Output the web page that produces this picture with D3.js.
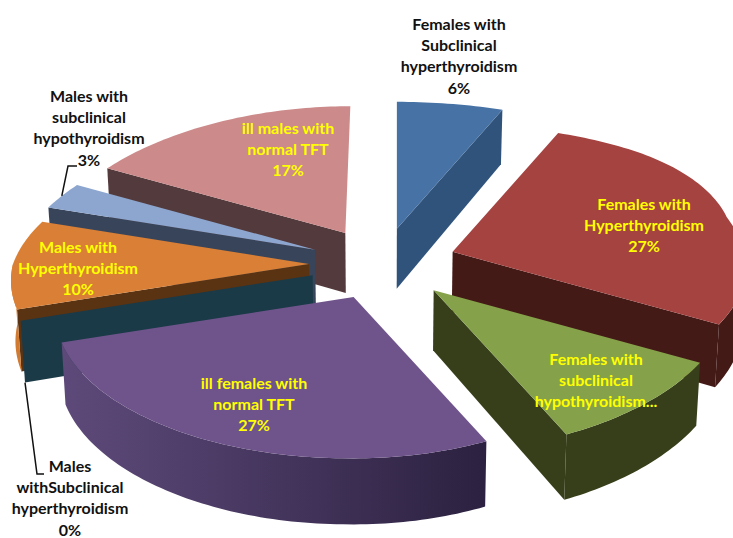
<!DOCTYPE html>
<html>
<head>
<meta charset="utf-8">
<script src="https://cdnjs.cloudflare.com/ajax/libs/d3/7.8.5/d3.min.js"></script>
<style>
    html, body { margin: 0; padding: 0; background: #fff; overflow: hidden; }
    text { font-family: Lato, "Open Sans", sans-serif; font-weight: 700; font-size: 16px; text-anchor: middle; }
</style>
</head>
<body>
<script>
// slices run clockwise from twelve o'clock
const categories = [
    ["Females with", "Subclinical", "hyperthyroidism", "6%"],
    ["Females with", "Hyperthyroidism", "27%"],
    ["Females with", "subclinical", "hypothyroidism..."],
    ["ill females with", "normal TFT", "27%"],
    ["Males", "withSubclinical", "hyperthyroidism", "0%"],
    ["Males with", "Hyperthyroidism", "10%"],
    ["Males with", "subclinical", "hypothyroidism", "3%"],
    ["ill males with", "normal TFT", "17%"]
];
const values = [6, 27, 10, 27, 0, 10, 3, 17];

const topColors = ["#4672a5", "#a54341", "#85a24a", "#6f548b", "#1b3a47", "#d98036", "#8ca6cf", "#cc8a8a"];
const edgeColors = ["#30537c", "#441a17", "#373f1a", "#6f548b", "#1b3a47", "#5a3313", "#38445a", "#533a3c"];
const rimColors = ["#30537c", "#441a17", "#373f1a", "url(#purple-rim)", "#1b3a47", "#d07a32", "#38445a", "#533a3c"];
const labelColors = ["#111", "#ffff00", "#ffff00", "#ffff00", "#111", "#ffff00", "#111", "#ffff00"];
const labelCentres = [[459, 24], [644, 204], [596, 359], [254, 383], [70, 466], [78, 247], [89, 96], [288, 128]];
const paintOrder = [0, 7, 6, 5, 4, 1, 2, 3];

const w = 733, h = 538;
const cx = 383, cy = 264;
const radiusX = 296, radiusY = 142;
const explodeX = 74, explodeY = 36;
const depth = 60;
const lineHeight = 21.3;

const svg = d3.select("body").append("svg")
    .attr("width", w)
    .attr("height", h)
    .attr("id", "pie-svg");

const grad = svg.append("defs").append("linearGradient")
    .attr("id", "purple-rim")
    .attr("x1", "0").attr("x2", "1").attr("y1", "0").attr("y2", "0");
grad.append("stop").attr("offset", "0").attr("stop-color", "#5e4a7a");
grad.append("stop").attr("offset", "0.5").attr("stop-color", "#45365e");
grad.append("stop").attr("offset", "1").attr("stop-color", "#2c2140");

const slices = d3.pie().sort(null)(values);
const line = d3.line();

// the picture's ellipse leans a little, back left pulled in and front pushed left
function lean(X, Y) {
    if (X < 0) return -Y * (5 + (Y < 0 ? 22 : 6) * -X);
    let s = -Y * (Y < 0 ? 12 : 8) * X;
    s -= 10 * X * Math.max(0, 1 - Math.abs(Y + 0.25) / 0.5);
    return s;
}

// flat pie plane to screen, near side drawn a bit larger
function project(d, angle, r, down) {
    const mid = (d.startAngle + d.endAngle) / 2;
    const X = r * Math.sin(angle), Y = -r * Math.cos(angle);
    let x = cx + explodeX * Math.sin(mid) + X * radiusX / (1 - 0.08 * Y) + lean(X, Y);
    let y = cy - explodeY * Math.cos(mid) + Y * radiusY / (1 - 0.12 * Y);
    if (down) {
        x = cx + (x - cx) * 0.988;
        y += depth * (1 + 0.1 * Y);
    }
    return [x, y];
}

function arcAngles(a0, a1) {
    const n = Math.max(2, Math.ceil((a1 - a0) / 0.02));
    return d3.range(n + 1).map(i => a0 + (a1 - a0) * i / n);
}

function radialWall(d, angle) {
    return line([
        project(d, angle, 0, false), project(d, angle, 1, false),
        project(d, angle, 1, true), project(d, angle, 0, true)
    ]) + "Z";
}

paintOrder.forEach(i => {
    const d = slices[i];
    const g = svg.append("g").attr("class", "slice");
    const a0 = d.startAngle, a1 = d.endAngle;

    // only walls turned to the viewer
    if (Math.sin(a1) > 0 && a1 > a0) {
        g.append("path").attr("d", radialWall(d, a1)).attr("fill", edgeColors[i]);
    }
    if (Math.sin(a0) < 0) {
        g.append("path").attr("d", radialWall(d, a0)).attr("fill", edgeColors[i]);
    }

    const r0 = Math.max(a0, Math.PI / 2), r1 = Math.min(a1, Math.PI * 1.5);
    if (r1 > r0) {
        const ang = arcAngles(r0, r1);
        const rim = ang.map(a => project(d, a, 1, false))
            .concat(ang.slice().reverse().map(a => project(d, a, 1, true)));
        g.append("path").attr("d", line(rim) + "Z").attr("fill", rimColors[i]);
    }

    if (a1 > a0) {
        const top = [project(d, a0, 0, false)].concat(arcAngles(a0, a1).map(a => project(d, a, 1, false)));
        g.append("path").attr("d", line(top) + "Z").attr("fill", topColors[i]);
    }
});

// leader lines for the two outside labels on the left
const leaders = [
    { slice: 6, angle: 0.5, down: false, elbow: [68, 166], end: [77, 166] },
    { slice: 4, angle: 0, down: true, elbow: [37, 474], end: [44, 474] }
];
leaders.forEach(l => {
    const d = slices[l.slice];
    const a = d.startAngle + (d.endAngle - d.startAngle) * l.angle;
    svg.append("path")
        .attr("d", line([project(d, a, 1, l.down), l.elbow, l.end]))
        .attr("fill", "none")
        .attr("stroke", "#111")
        .attr("stroke-width", 1.5);
});

categories.forEach((lines, i) => {
    const t = svg.append("text").attr("fill", labelColors[i]);
    lines.forEach((s, j) => {
        t.append("tspan")
            .attr("x", labelCentres[i][0])
            .attr("y", labelCentres[i][1] + j * lineHeight)
            .attr("dy", "0.35em")
            .text(s);
    });
});
</script>
</body>
</html>
